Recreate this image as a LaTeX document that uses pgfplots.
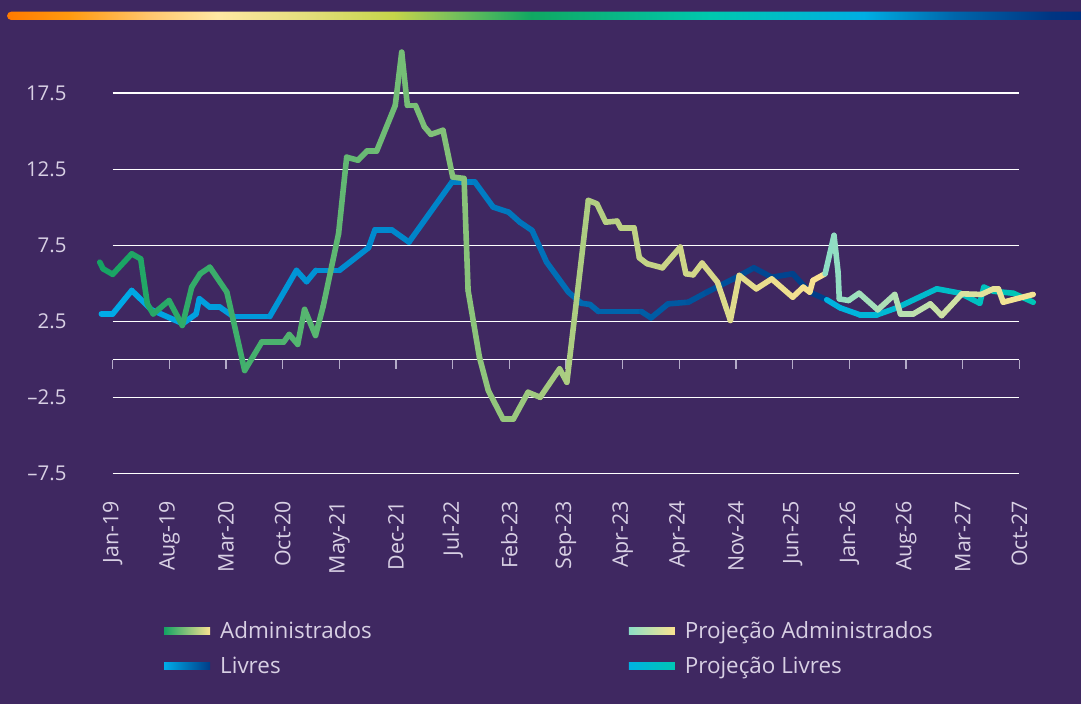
\documentclass[border=0pt]{standalone}
\usepackage{fontspec}
\setmainfont{Open Sans}
\usepackage{pgfplots}
\pgfplotsset{compat=1.18}
\definecolor{bg}{HTML}{3F2861}
\definecolor{txt}{HTML}{D8D0E4}
\definecolor{tickc}{HTML}{B4ABC8}
\definecolor{admA}{RGB}{20,163,99}
\definecolor{admB}{RGB}{250,226,145}
\definecolor{livA}{RGB}{0,172,232}
\definecolor{livB}{RGB}{0,60,135}
\definecolor{padA}{RGB}{140,222,198}
\definecolor{padB}{RGB}{250,227,144}
\definecolor{plvA}{RGB}{0,178,226}
\definecolor{plvB}{RGB}{0,198,180}
\pgfdeclarehorizontalshading{topbar}{100bp}{rgb(0bp)=(1,0.478,0); rgb(25bp)=(1,0.478,0); rgb(27.9bp)=(1,0.604,0.063); rgb(31.75bp)=(1,0.784,0.439); rgb(34.8bp)=(1,0.91,0.639); rgb(39.1bp)=(0.89,0.871,0.478); rgb(43bp)=(0.773,0.835,0.29); rgb(45.5bp)=(0.502,0.761,0.353); rgb(49.4bp)=(0.063,0.659,0.384); rgb(57.7bp)=(0,0.784,0.682); rgb(64.9bp)=(0,0.682,0.89); rgb(69.1bp)=(0,0.4,0.667); rgb(73.6bp)=(0,0.208,0.51); rgb(75bp)=(0,0.188,0.502); rgb(100bp)=(0,0.188,0.502)}
\pgfplotsset{
  colormap={admin}{rgb255=(20,163,99) rgb255=(250,226,145)},
  colormap={livres}{rgb255=(0,172,232) rgb255=(0,128,198) rgb255=(0,60,135)},
  colormap={padmin}{rgb255=(140,222,198) rgb255=(250,227,144)},
  colormap={plivres}{rgb255=(0,178,226) rgb255=(0,198,180)},
}
\begin{document}
\begin{tikzpicture}[x=1bp,y=1bp]
\useasboundingbox (0,0) rectangle (1081,704);
\fill[bg] (0,0) rectangle (1081,704);
\shade[shading=topbar] (1081,684) -- (11.2,684) arc[start angle=270,end angle=90,radius=4.15] -- (1081,692.3) -- cycle;
\begin{axis}[
  at={(112.7bp,230.3bp)}, anchor=south west,
  scale only axis, width=906.7bp, height=380.4bp,
  xmin=0, xmax=112, ymin=-7.5, ymax=17.5,
  clip=false,
  axis line style={draw=none},
  tick style={draw=none},
  ytick={-7.5,-2.5,2.5,7.5,12.5,17.5},
  yticklabels={--7.5,--2.5,2.5,7.5,12.5,17.5},
  extra y ticks={0}, extra y tick labels={},
  ymajorgrids,
  grid style={white, line width=1.6bp},
  extra y tick style={grid=major},
  yticklabel style={font=\fontsize{20.5}{24}\selectfont, text=txt, anchor=east, inner sep=0pt, xshift=-46bp},
  xtick={0,7,...,112},
  xticklabels={Jan-19,Aug-19,Mar-20,Oct-20,May-21,Dec-21,Jul-22,Feb-23,Sep-23,Apr-23,Apr-24,Nov-24,Jun-25,Jan-26,Aug-26,Mar-27,Oct-27},
  xticklabel style={font=\fontsize{21.5}{24}\selectfont, text=txt, rotate=90, anchor=east, inner sep=0pt},
  xticklabel shift=27bp,
  point meta rel=per plot,
  legend columns=2,
  legend cell align=left,
  legend style={at={(0.0533,-0.378)}, anchor=north west, draw=none, fill=none,
    font=\fontsize{22.5}{26}\selectfont, text=txt, row sep=13bp,
    /tikz/every odd column/.append style={column sep=8bp},
    /tikz/every even column/.append style={column sep=255bp}},
]
\addlegendimage{legend image code/.code={\shade[draw=none, left color=admA, right color=admB] (0bp,-3.5bp) rectangle (46bp,3.5bp);}}
\addlegendentry{Administrados}
\addlegendimage{legend image code/.code={\shade[draw=none, left color=padA, right color=padB] (0bp,-3.5bp) rectangle (46bp,3.5bp);}}
\addlegendentry{Projeção Administrados}
\addlegendimage{legend image code/.code={\shade[draw=none, left color=livA, right color=livB] (0bp,-3.5bp) rectangle (46bp,3.5bp);}}
\addlegendentry{Livres}
\addlegendimage{legend image code/.code={\shade[draw=none, left color=plvA, right color=plvB] (0bp,-3.5bp) rectangle (46bp,3.5bp);}}
\addlegendentry{Projeção Livres}

\pgfplotsinvokeforeach{0,7,14,21,28,35,42,49,56,63,70,77,84,91,98,105,112}{
  \draw[tickc, line width=1.3bp] (axis cs:#1,0) -- ([yshift=-9bp]axis cs:#1,0);
}

\addplot[mesh, colormap name=livres, point meta=x, line width=5.6bp, line cap=round, forget plot] coordinates {
(-1.4,3.0)(0,3.0)(2.35,4.54)(4.8,3.27)(8.66,2.36)(10.3,3.0)(10.7,4.0)(12.0,3.44)(13.25,3.44)(14.9,2.83)(19.4,2.83)(22.7,5.86)(23.95,5.12)(25.1,5.86)(28.0,5.86)(31.6,7.35)(32.4,8.53)(34.45,8.53)(36.6,7.72)(41.9,11.66)(44.75,11.66)(47.0,10.02)(48.9,9.69)(50.3,9.03)(51.8,8.49)(53.6,6.4)(56.3,4.43)(57.9,3.7)(58.96,3.62)(60.0,3.16)(65.3,3.16)(66.5,2.74)(68.6,3.66)(71.1,3.77)(73.4,4.43)(76.7,5.31)(79.2,6.03)(81.4,5.41)(84.0,5.64)(86.1,4.43)(88.2,3.93)
};
\addplot[mesh, colormap name=plivres, point meta=x, line width=5.6bp, line cap=round, forget plot] coordinates {
(88.2,3.93)(89.85,3.4)(92.3,2.94)(94.4,2.94)(96.85,3.4)(101.8,4.65)(104.7,4.36)(107.1,3.7)(107.6,4.76)(108.8,4.49)(111.25,4.36)(113.7,3.77)
};
\addplot[mesh, colormap name=admin, point meta=x, line width=5.6bp, line cap=round, forget plot] coordinates {
(-1.6,6.4)(-1.2,5.97)(0,5.6)(2.35,6.95)(3.46,6.62)(4.28,3.66)(5.0,3.0)(6.96,3.88)(8.6,2.24)(9.76,4.76)(10.8,5.64)(12.0,6.07)(14.1,4.43)(14.9,2.57)(16.3,-0.72)(18.4,1.14)(21.1,1.14)(21.8,1.65)(22.85,1.0)(23.7,3.3)(25.05,1.58)(26.0,3.5)(27.9,8.27)(28.9,13.3)(30.3,13.1)(31.4,13.7)(32.6,13.7)(34.9,16.7)(35.7,20.2)(36.4,16.7)(37.4,16.7)(38.5,15.3)(39.3,14.8)(40.8,15.07)(42.0,12.0)(43.4,11.9)(43.9,4.54)(45.3,0.15)(46.4,-2.04)(48.2,-3.9)(49.5,-3.9)(51.3,-2.15)(52.8,-2.48)(55.2,-0.61)(56.1,-1.49)(58.75,10.46)(59.8,10.24)(60.9,9.03)(62.3,9.1)(62.75,8.66)(64.4,8.66)(65.05,6.69)(66.0,6.3)(67.9,6.03)(70.1,7.39)(70.8,5.64)(71.7,5.57)(72.8,6.34)(74.7,5.09)(76.3,2.57)(77.4,5.53)(79.5,4.65)(81.4,5.3)(84.0,4.1)(85.3,4.76)(86.1,4.43)(86.5,5.2)(88.0,5.64)
};
\addplot[mesh, colormap name=padmin, point meta=x, line width=5.6bp, line cap=round, forget plot] coordinates {
(88.0,5.64)(89.1,8.16)(89.6,5.74)(89.75,3.99)(90.9,3.88)(92.2,4.36)(94.5,3.27)(96.6,4.28)(97.3,3.0)(98.9,3.0)(101.0,3.66)(102.4,2.89)(104.9,4.32)(107.3,4.28)(108.8,4.65)(109.4,4.65)(110.0,3.77)(113.7,4.28)
};
\end{axis}
\end{tikzpicture}
\end{document}
